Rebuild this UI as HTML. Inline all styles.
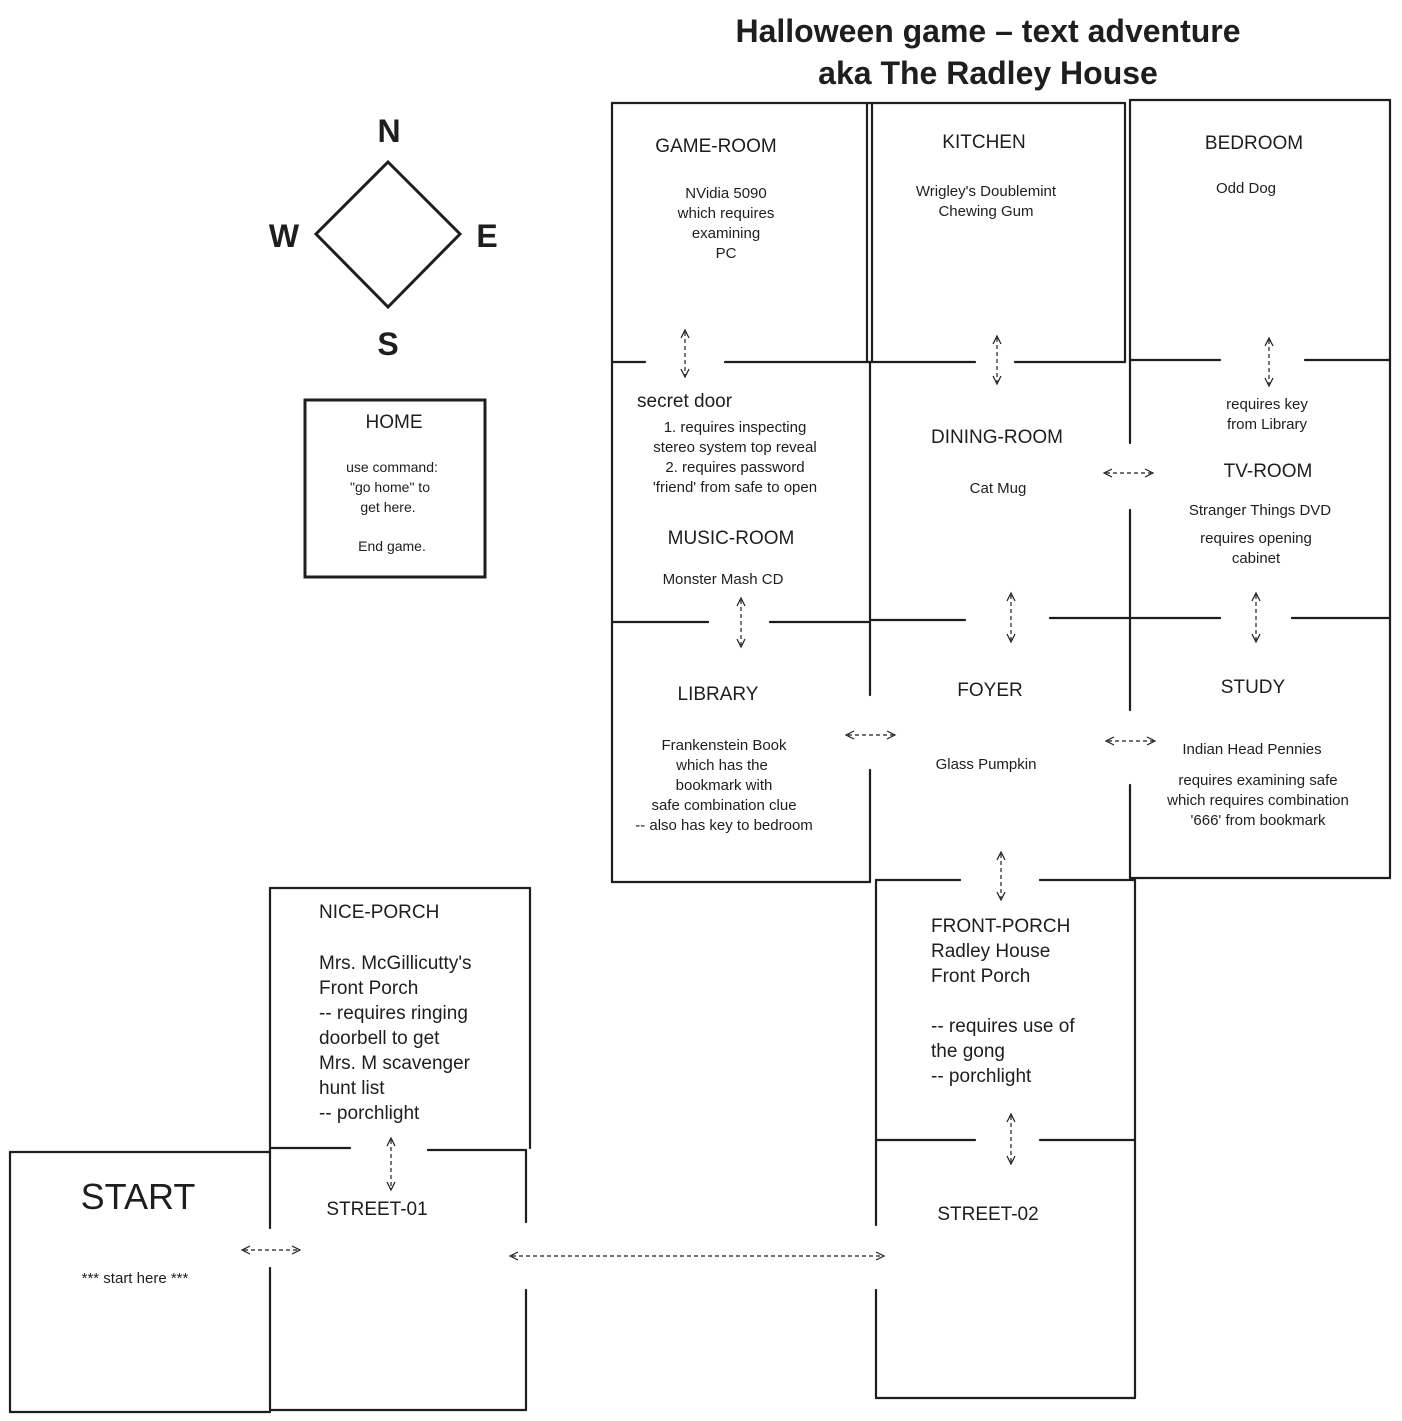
<!DOCTYPE html>
<html><head><meta charset="utf-8"><style>
html,body{margin:0;padding:0;background:#fff;}
svg{display:block}
text{font-family:"Liberation Sans",sans-serif;fill:#1e1e1e}
.w{stroke:#1e1e1e;stroke-width:2.2;fill:none;stroke-linecap:round}
.a{stroke:#1e1e1e;stroke-width:1.2;fill:none;stroke-dasharray:4 3}
.h{stroke:#1e1e1e;stroke-width:1.2;fill:none}
</style></head><body>
<svg width="1402" height="1421" viewBox="0 0 1402 1421" xmlns="http://www.w3.org/2000/svg">
<!-- title -->
<text x="988" y="42" text-anchor="middle" font-size="32" font-weight="bold">Halloween game – text adventure</text>
<text x="988" y="84" text-anchor="middle" font-size="32" font-weight="bold">aka The Radley House</text>

<!-- compass -->
<polygon points="388,162 460,234 388,307 316,234" class="w" style="stroke-width:3"/>
<text x="389" y="142" text-anchor="middle" font-size="32" font-weight="bold">N</text>
<text x="284" y="247" text-anchor="middle" font-size="32" font-weight="bold">W</text>
<text x="487" y="247" text-anchor="middle" font-size="32" font-weight="bold">E</text>
<text x="388" y="355" text-anchor="middle" font-size="32" font-weight="bold">S</text>

<!-- home -->
<rect x="305" y="400" width="180" height="177" class="w" style="stroke-width:3"/>
<text x="394" y="428" text-anchor="middle" font-size="19">HOME</text>
<g font-size="14" text-anchor="middle">
<text x="392" y="472">use command:</text>
<text x="390" y="492">"go home" to</text>
<text x="388" y="512">get here.</text>
<text x="392" y="551">End game.</text>
</g>

<!-- house walls -->
<g class="w">
<line x1="612" y1="103" x2="1125" y2="103"/>
<line x1="1130" y1="100" x2="1390" y2="100"/>
<line x1="612" y1="103" x2="612" y2="882"/>
<line x1="867" y1="103" x2="867" y2="362"/>
<line x1="872" y1="103" x2="872" y2="362"/>
<line x1="1125" y1="103" x2="1125" y2="362"/>
<line x1="1130" y1="100" x2="1130" y2="360"/>
<line x1="1390" y1="100" x2="1390" y2="878"/>
<!-- y 362 -->
<line x1="612" y1="362" x2="645" y2="362"/>
<line x1="725" y1="362" x2="870" y2="362"/>
<line x1="870" y1="362" x2="975" y2="362"/>
<line x1="1015" y1="362" x2="1125" y2="362"/>
<line x1="1130" y1="360" x2="1220" y2="360"/>
<line x1="1305" y1="360" x2="1390" y2="360"/>
<!-- x 870 middle -->
<line x1="870" y1="362" x2="870" y2="695"/>
<line x1="870" y1="770" x2="870" y2="882"/>
<!-- x 1130 -->
<line x1="1130" y1="360" x2="1130" y2="443"/>
<line x1="1130" y1="510" x2="1130" y2="710"/>
<line x1="1130" y1="785" x2="1130" y2="878"/>
<!-- y 620 -->
<line x1="612" y1="622" x2="708" y2="622"/>
<line x1="770" y1="622" x2="870" y2="622"/>
<line x1="870" y1="620" x2="965" y2="620"/>
<line x1="1050" y1="618" x2="1130" y2="618"/>
<line x1="1130" y1="618" x2="1220" y2="618"/>
<line x1="1292" y1="618" x2="1390" y2="618"/>
<!-- y 880 -->
<line x1="612" y1="882" x2="870" y2="882"/>
<line x1="1130" y1="878" x2="1390" y2="878"/>
<line x1="876" y1="880" x2="960" y2="880"/>
<line x1="1040" y1="880" x2="1135" y2="880"/>
<!-- front porch / street-02 -->
<line x1="876" y1="880" x2="876" y2="1225"/>
<line x1="876" y1="1290" x2="876" y2="1398"/>
<line x1="1135" y1="880" x2="1135" y2="1398"/>
<line x1="876" y1="1140" x2="975" y2="1140"/>
<line x1="1040" y1="1140" x2="1135" y2="1140"/>
<line x1="876" y1="1398" x2="1135" y2="1398"/>
<!-- nice porch -->
<line x1="270" y1="888" x2="530" y2="888"/>
<line x1="270" y1="888" x2="270" y2="1228"/>
<line x1="270" y1="1268" x2="270" y2="1410"/>
<line x1="530" y1="888" x2="530" y2="1148"/>
<line x1="270" y1="1148" x2="350" y2="1148"/>
<line x1="428" y1="1150" x2="526" y2="1150"/>
<line x1="526" y1="1150" x2="526" y2="1222"/>
<line x1="526" y1="1290" x2="526" y2="1410"/>
<line x1="270" y1="1410" x2="526" y2="1410"/>
<!-- start -->
<line x1="10" y1="1152" x2="270" y2="1152"/>
<line x1="10" y1="1152" x2="10" y2="1412"/>
<line x1="10" y1="1412" x2="270" y2="1412"/>
</g>

<!-- arrows -->
<g>
<line x1="685" y1="332" x2="685" y2="375" class="a"/>
<line x1="997" y1="338" x2="997" y2="382" class="a"/>
<line x1="1269" y1="340" x2="1269" y2="384" class="a"/>
<line x1="741" y1="600" x2="741" y2="645" class="a"/>
<line x1="1011" y1="595" x2="1011" y2="640" class="a"/>
<line x1="1256" y1="595" x2="1256" y2="640" class="a"/>
<line x1="1001" y1="854" x2="1001" y2="898" class="a"/>
<line x1="1011" y1="1116" x2="1011" y2="1162" class="a"/>
<line x1="391" y1="1140" x2="391" y2="1188" class="a"/>
<line x1="1106" y1="473" x2="1151" y2="473" class="a"/>
<line x1="848" y1="735" x2="893" y2="735" class="a"/>
<line x1="1108" y1="741" x2="1153" y2="741" class="a"/>
<line x1="244" y1="1250" x2="298" y2="1250" class="a"/>
<line x1="512" y1="1256" x2="882" y2="1256" class="a"/>
</g>
<g class="h">
<polyline points="681,338 685,330 689,338"/><polyline points="681,369 685,377 689,369"/>
<polyline points="993,344 997,336 1001,344"/><polyline points="993,376 997,384 1001,376"/>
<polyline points="1265,346 1269,338 1273,346"/><polyline points="1265,378 1269,386 1273,378"/>
<polyline points="737,606 741,598 745,606"/><polyline points="737,639 741,647 745,639"/>
<polyline points="1007,601 1011,593 1015,601"/><polyline points="1007,634 1011,642 1015,634"/>
<polyline points="1252,601 1256,593 1260,601"/><polyline points="1252,634 1256,642 1260,634"/>
<polyline points="997,860 1001,852 1005,860"/><polyline points="997,892 1001,900 1005,892"/>
<polyline points="1007,1122 1011,1114 1015,1122"/><polyline points="1007,1156 1011,1164 1015,1156"/>
<polyline points="387,1146 391,1138 395,1146"/><polyline points="387,1182 391,1190 395,1182"/>
<polyline points="1112,469 1104,473 1112,477"/><polyline points="1145,469 1153,473 1145,477"/>
<polyline points="854,731 846,735 854,739"/><polyline points="887,731 895,735 887,739"/>
<polyline points="1114,737 1106,741 1114,745"/><polyline points="1147,737 1155,741 1147,745"/>
<polyline points="250,1246 242,1250 250,1254"/><polyline points="292,1246 300,1250 292,1254"/>
<polyline points="518,1252 510,1256 518,1260"/><polyline points="876,1252 884,1256 876,1260"/>
</g>

<!-- room labels -->
<g font-size="19" text-anchor="middle">
<text x="716" y="152">GAME-ROOM</text>
<text x="984" y="148">KITCHEN</text>
<text x="1254" y="149">BEDROOM</text>
<text x="997" y="443">DINING-ROOM</text>
<text x="1268" y="477">TV-ROOM</text>
<text x="731" y="544">MUSIC-ROOM</text>
<text x="718" y="700">LIBRARY</text>
<text x="990" y="696">FOYER</text>
<text x="1253" y="693">STUDY</text>
<text x="377" y="1215">STREET-01</text>
<text x="988" y="1220">STREET-02</text>
<text x="138" y="1209" font-size="36">START</text>
</g>
<text x="637" y="407" font-size="19">secret door</text>

<g font-size="15" text-anchor="middle">
<text x="726" y="198">NVidia 5090</text>
<text x="726" y="218">which requires</text>
<text x="726" y="238">examining</text>
<text x="726" y="258">PC</text>
<text x="986" y="196">Wrigley's Doublemint</text>
<text x="986" y="216">Chewing Gum</text>
<text x="1246" y="193">Odd Dog</text>
<text x="1267" y="409">requires key</text>
<text x="1267" y="429">from Library</text>
<text x="735" y="432">1. requires inspecting</text>
<text x="735" y="452">stereo system top reveal</text>
<text x="735" y="472">2. requires password</text>
<text x="735" y="492">'friend' from safe to open</text>
<text x="998" y="493">Cat Mug</text>
<text x="1260" y="515">Stranger Things DVD</text>
<text x="1256" y="543">requires opening</text>
<text x="1256" y="563">cabinet</text>
<text x="723" y="584">Monster Mash CD</text>
<text x="724" y="750">Frankenstein Book</text>
<text x="722" y="770">which has the</text>
<text x="724" y="790">bookmark with</text>
<text x="724" y="810">safe combination clue</text>
<text x="724" y="830">-- also has key to bedroom</text>
<text x="986" y="769">Glass Pumpkin</text>
<text x="1252" y="754">Indian Head Pennies</text>
<text x="1258" y="785">requires examining safe</text>
<text x="1258" y="805">which requires combination</text>
<text x="1258" y="825">'666' from bookmark</text>
<text x="135" y="1283">*** start here ***</text>
</g>

<g font-size="19">
<text x="319" y="918">NICE-PORCH</text>
<text x="319" y="969">Mrs. McGillicutty's</text>
<text x="319" y="994">Front Porch</text>
<text x="319" y="1019">-- requires ringing</text>
<text x="319" y="1044">doorbell to get</text>
<text x="319" y="1069">Mrs. M scavenger</text>
<text x="319" y="1094">hunt list</text>
<text x="319" y="1119">-- porchlight</text>
<text x="931" y="932">FRONT-PORCH</text>
<text x="931" y="957">Radley House</text>
<text x="931" y="982">Front Porch</text>
<text x="931" y="1032">-- requires use of</text>
<text x="931" y="1057">the gong</text>
<text x="931" y="1082">-- porchlight</text>
</g>
</svg>
</body></html>
